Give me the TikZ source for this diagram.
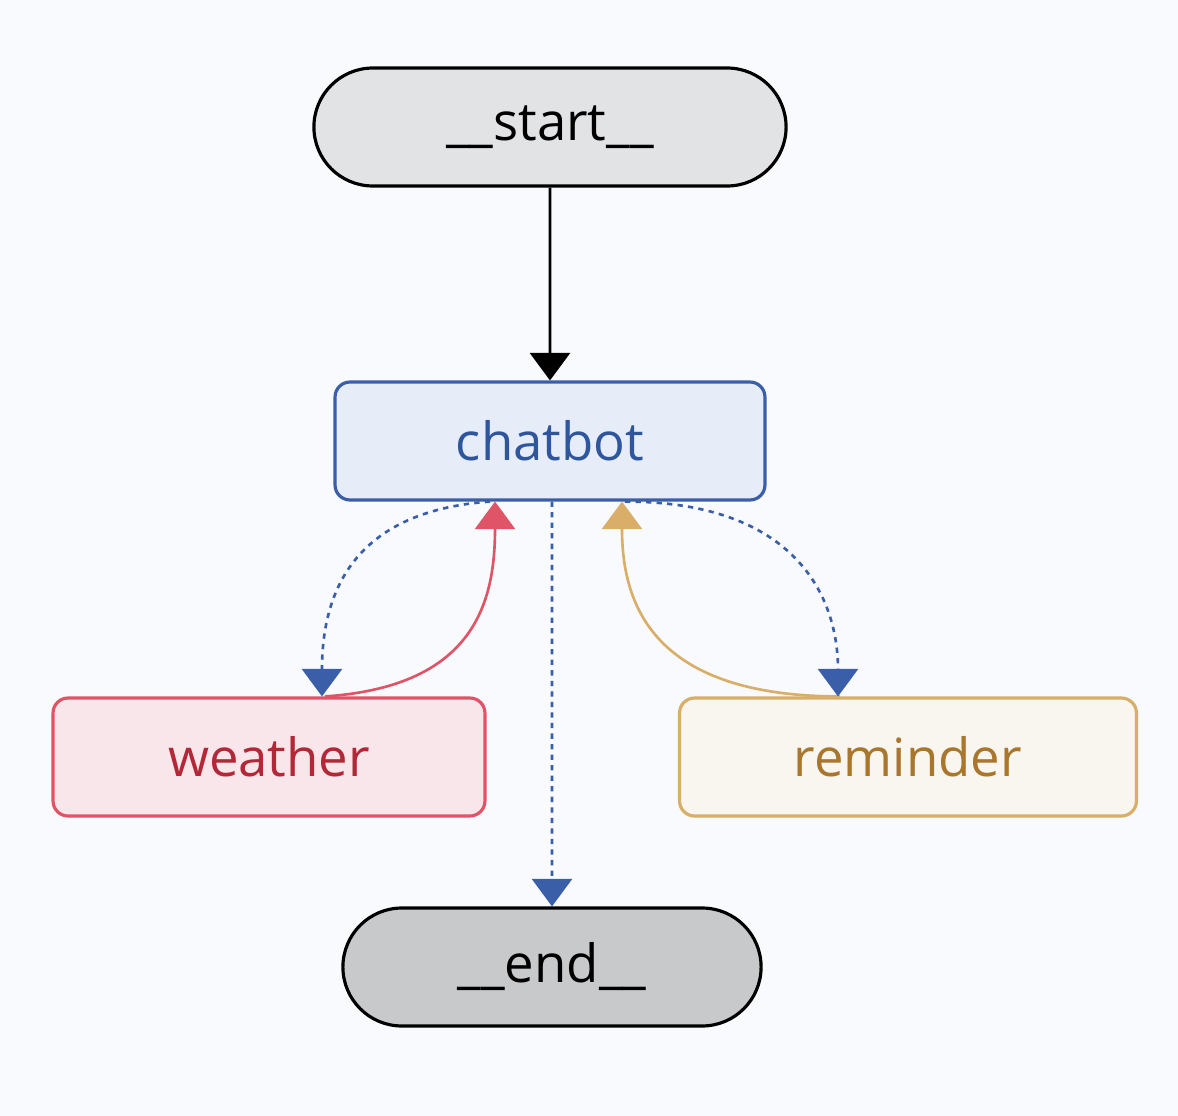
\documentclass[tikz,border=0pt]{standalone}
\usepackage{fontspec}
\setmainfont{Open Sans}
\usetikzlibrary{positioning}
\usetikzlibrary{arrows.meta}
\usetikzlibrary{shapes.misc}
\definecolor{bgc}{HTML}{F8FAFD}
\definecolor{termfill}{HTML}{E2E3E5}
\definecolor{endfill}{HTML}{C8C9CB}
\definecolor{chatfill}{HTML}{E6ECF8}
\definecolor{chatdraw}{HTML}{3A5FA8}
\definecolor{chattext}{HTML}{2F569C}
\definecolor{wfill}{HTML}{F9E6EA}
\definecolor{wdraw}{HTML}{E05468}
\definecolor{wtext}{HTML}{B32838}
\definecolor{rfill}{HTML}{F8F6EF}
\definecolor{rdraw}{HTML}{D8AE68}
\definecolor{rtext}{HTML}{A8762C}
\begin{document}
\begin{tikzpicture}
  [ x=0.02cm, y=-0.02cm,
    term/.style={rounded rectangle, draw=black, line width=1.8pt,
      minimum height=2.36cm, font=\fontsize{30}{36}\selectfont},
    box/.style={rounded corners=0.3cm, line width=1.8pt,
      minimum height=2.36cm, font=\fontsize{30}{36}\selectfont},
    tip/.style={-{Triangle[width=0.8cm,length=0.55cm]}},
    ld/.style={tip, draw=chatdraw, line width=1.5pt, dashed}
  ]
  \fill [bgc] (0,0) rectangle (1178,1116);
  \useasboundingbox (0,0) rectangle (1178,1116);

  \node (start)    at (550,127) [term, fill=termfill, minimum width=9.68cm] {\_\_start\_\_};
  \node (chatbot)  at (550,441) [box, fill=chatfill, draw=chatdraw, text=chattext, minimum width=8.6cm] {chatbot};
  \node (weather)  at (269,757) [box, fill=wfill, draw=wdraw, text=wtext, minimum width=8.64cm] {weather};
  \node (reminder) at (908,757) [box, fill=rfill, draw=rdraw, text=rtext, minimum width=9.14cm] {reminder};
  \node (end)      at (552,967) [term, fill=endfill, minimum width=8.6cm] {\_\_end\_\_};

  \draw [tip, line width=1.5pt] (start) -- (chatbot);
  \draw [ld] ([xshift=0.04cm]chatbot.south) -- (end);
  \draw [ld] ([xshift=-1.2cm]chatbot.south) .. controls +(-140,10) and +(0,-100) .. ([xshift=1.06cm]weather.north);
  \draw [tip, draw=wdraw, line width=1.5pt] ([xshift=1.12cm]weather.north) .. controls +(150,-10) and +(0,100) .. ([xshift=-1.1cm]chatbot.south);
  \draw [tip, draw=rdraw, line width=1.5pt] ([xshift=-1.36cm]reminder.north) .. controls +(-190,0) and +(0,100) .. ([xshift=1.44cm]chatbot.south);
  \draw [ld] ([xshift=1.5cm]chatbot.south) .. controls +(170,0) and +(0,-100) .. ([xshift=-1.4cm]reminder.north);
\end{tikzpicture}
\end{document}
